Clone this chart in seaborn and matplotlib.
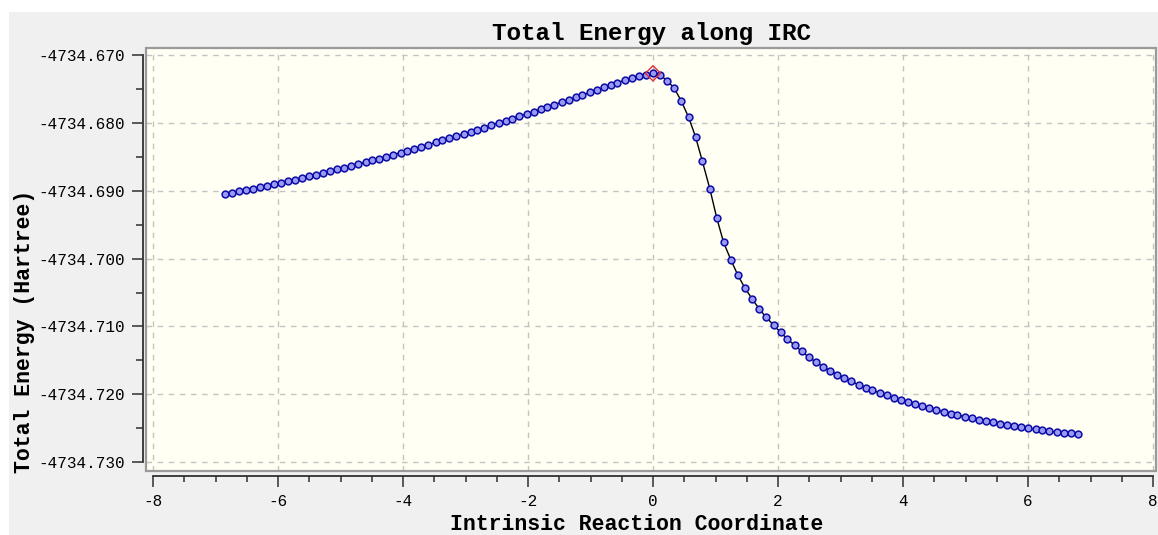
import numpy as np
import pandas as pd
import matplotlib
matplotlib.use("Agg")
import matplotlib.pyplot as plt
import seaborn as sns
from matplotlib.patches import Rectangle
from matplotlib.ticker import MultipleLocator, FormatStrFormatter

# IRC data (reaction side -> TS -> product side)
irc_left = [-6.85, -6.74, -6.63, -6.51, -6.40, -6.29, -6.17, -6.06, -5.95, -5.84,
            -5.73, -5.61, -5.50, -5.39, -5.28, -5.17, -5.05, -4.94, -4.83, -4.72,
            -4.60, -4.49, -4.38, -4.27, -4.16, -4.04, -3.93, -3.82, -3.71, -3.60,
            -3.48, -3.37, -3.26, -3.15, -3.03, -2.92, -2.81, -2.70, -2.59, -2.47,
            -2.36, -2.25, -2.14, -2.02, -1.91, -1.80, -1.69, -1.58, -1.46, -1.35,
            -1.24, -1.13, -1.01, -0.90, -0.79, -0.68, -0.57, -0.45, -0.34, -0.23,
            -0.11, 0.00]
energy_left = [-4734.69045, -4734.69027, -4734.69008, -4734.68987, -4734.68967,
               -4734.68946, -4734.68923, -4734.68902, -4734.68880, -4734.68858,
               -4734.68835, -4734.68810, -4734.68786, -4734.68762, -4734.68738,
               -4734.68713, -4734.68686, -4734.68661, -4734.68635, -4734.68609,
               -4734.68580, -4734.68553, -4734.68525, -4734.68498, -4734.68470,
               -4734.68439, -4734.68410, -4734.68381, -4734.68351, -4734.68322,
               -4734.68289, -4734.68259, -4734.68228, -4734.68198, -4734.68164,
               -4734.68133, -4734.68101, -4734.68069, -4734.68037, -4734.68002,
               -4734.67969, -4734.67937, -4734.67904, -4734.67867, -4734.67834,
               -4734.67800, -4734.67766, -4734.67732, -4734.67695, -4734.67661,
               -4734.67626, -4734.67592, -4734.67552, -4734.67512, -4734.67478,
               -4734.67442, -4734.67406, -4734.67373, -4734.67342, -4734.67314,
               -4734.67290, -4734.67270]

irc_right = [0.11, 0.23, 0.34, 0.45, 0.57, 0.68, 0.79, 0.91, 1.02, 1.13,
             1.25, 1.36, 1.47, 1.59, 1.70, 1.81, 1.93, 2.04, 2.15, 2.27,
             2.38, 2.49, 2.61, 2.72, 2.83, 2.95, 3.06, 3.17, 3.29, 3.40,
             3.51, 3.63, 3.74, 3.85, 3.97, 4.08, 4.19, 4.31, 4.42, 4.53,
             4.65, 4.76, 4.87, 4.99, 5.10, 5.21, 5.33, 5.44, 5.55, 5.67,
             5.78, 5.89, 6.00, 6.12, 6.23, 6.34, 6.46, 6.57, 6.68, 6.80]
energy_right = [-4734.67295, -4734.67379, -4734.67491, -4734.67673, -4734.67918,
                -4734.68204, -4734.68566, -4734.68974, -4734.69401, -4734.69762,
                -4734.70027, -4734.70248, -4734.70433, -4734.70599, -4734.70742,
                -4734.70864, -4734.70980, -4734.71085, -4734.71184, -4734.71280,
                -4734.71368, -4734.71450, -4734.71525, -4734.71592, -4734.71651,
                -4734.71708, -4734.71760, -4734.71810, -4734.71856, -4734.71900,
                -4734.71940, -4734.71978, -4734.72016, -4734.72052, -4734.72086,
                -4734.72118, -4734.72148, -4734.72177, -4734.72205, -4734.72231,
                -4734.72257, -4734.72282, -4734.72305, -4734.72328, -4734.72350,
                -4734.72372, -4734.72393, -4734.72413, -4734.72432, -4734.72451,
                -4734.72468, -4734.72485, -4734.72501, -4734.72516, -4734.72530,
                -4734.72543, -4734.72555, -4734.72566, -4734.72576, -4734.72585]

ts_x = [0.0]
ts_energy = [-4734.67270]

df = pd.DataFrame({"IRC": irc_left + irc_right,
                   "Energy": energy_left + energy_right})
ts = pd.DataFrame({"IRC": ts_x, "Energy": ts_energy})

sns.set_style("white")
plt.rcParams['font.family'] = ['Liberation Mono', 'DejaVu Sans Mono']
plt.rcParams['axes.unicode_minus'] = False
plt.rcParams['text.color'] = 'black'
plt.rcParams['axes.labelcolor'] = 'black'
plt.rcParams['xtick.labelcolor'] = 'black'
plt.rcParams['ytick.labelcolor'] = 'black'

W, H = 1158, 535
fig = plt.figure(figsize=(W / 100, H / 100), dpi=100, facecolor="white")
# grey panel behind everything
fig.add_artist(Rectangle((9 / W, 0), 1, (H - 12) / H, transform=fig.transFigure,
                         facecolor="#f0f0f0", edgecolor="none", zorder=0))

ax = fig.add_axes([146 / W, (H - 471) / H, (1156 - 146) / W, (471 - 48) / H])
ax.set_facecolor("#fffff3")

sns.lineplot(data=df, x="IRC", y="Energy", ax=ax, color="black", lw=1,
             sort=False, zorder=2)
sns.scatterplot(data=df, x="IRC", y="Energy", ax=ax, s=24, marker="o",
                facecolor="#9a9af2", edgecolor="#0c0ca8", linewidth=1.1, zorder=3)
sns.scatterplot(data=ts, x="IRC", y="Energy", ax=ax, s=60, marker="D",
                facecolor="none", edgecolor="#e03030", linewidth=1.0, zorder=4)

ax.set_xlim(-8.112, 8.048)
ax.set_ylim(-4734.73129, -4734.66897)

ax.xaxis.set_major_locator(MultipleLocator(2))
ax.xaxis.set_minor_locator(MultipleLocator(0.5))
ax.yaxis.set_major_locator(MultipleLocator(0.01))
ax.yaxis.set_minor_locator(MultipleLocator(0.005))
ax.yaxis.set_major_formatter(FormatStrFormatter('%.3f'))

ax.grid(True, which="major", color="#c4c4c4", linestyle=(0, (4, 4)), lw=1)

for side in ["top", "right"]:
    ax.spines[side].set_visible(False)
ax.spines["left"].set_position(("outward", 2.2))
ax.spines["bottom"].set_position(("outward", 3.6))
ax.spines["left"].set_bounds(-4734.730, -4734.670)
ax.spines["bottom"].set_bounds(-8, 8)
for side in ["left", "bottom"]:
    ax.spines[side].set_color("#303030")
    ax.spines[side].set_linewidth(1.3)

# canvas frame
ax.add_patch(Rectangle((0, 0), 1, 1, transform=ax.transAxes, fill=False,
                       edgecolor="#9a9a9a", lw=1.6, clip_on=False, zorder=5))

ax.tick_params(axis="both", which="both", direction="out", color="#303030",
               width=1.1, labelsize=11.5, pad=5, left=True, bottom=True)
ax.tick_params(axis="both", which="major", length=8)
ax.tick_params(axis="x", which="minor", length=4.5)
ax.tick_params(axis="y", which="minor", length=5)

ax.set_title("Total Energy along IRC", fontsize=17.5, fontweight="bold",
             color="black", pad=6)
ax.set_xlabel("Intrinsic Reaction Coordinate", fontsize=15.5, fontweight="bold")
ax.set_ylabel("Total Energy (Hartree)", fontsize=15.5, fontweight="bold")
ax.xaxis.set_label_coords(0.486, -0.102)
ax.yaxis.set_label_coords(-0.11, 0.331)

fig.savefig("out.png", dpi=100)
